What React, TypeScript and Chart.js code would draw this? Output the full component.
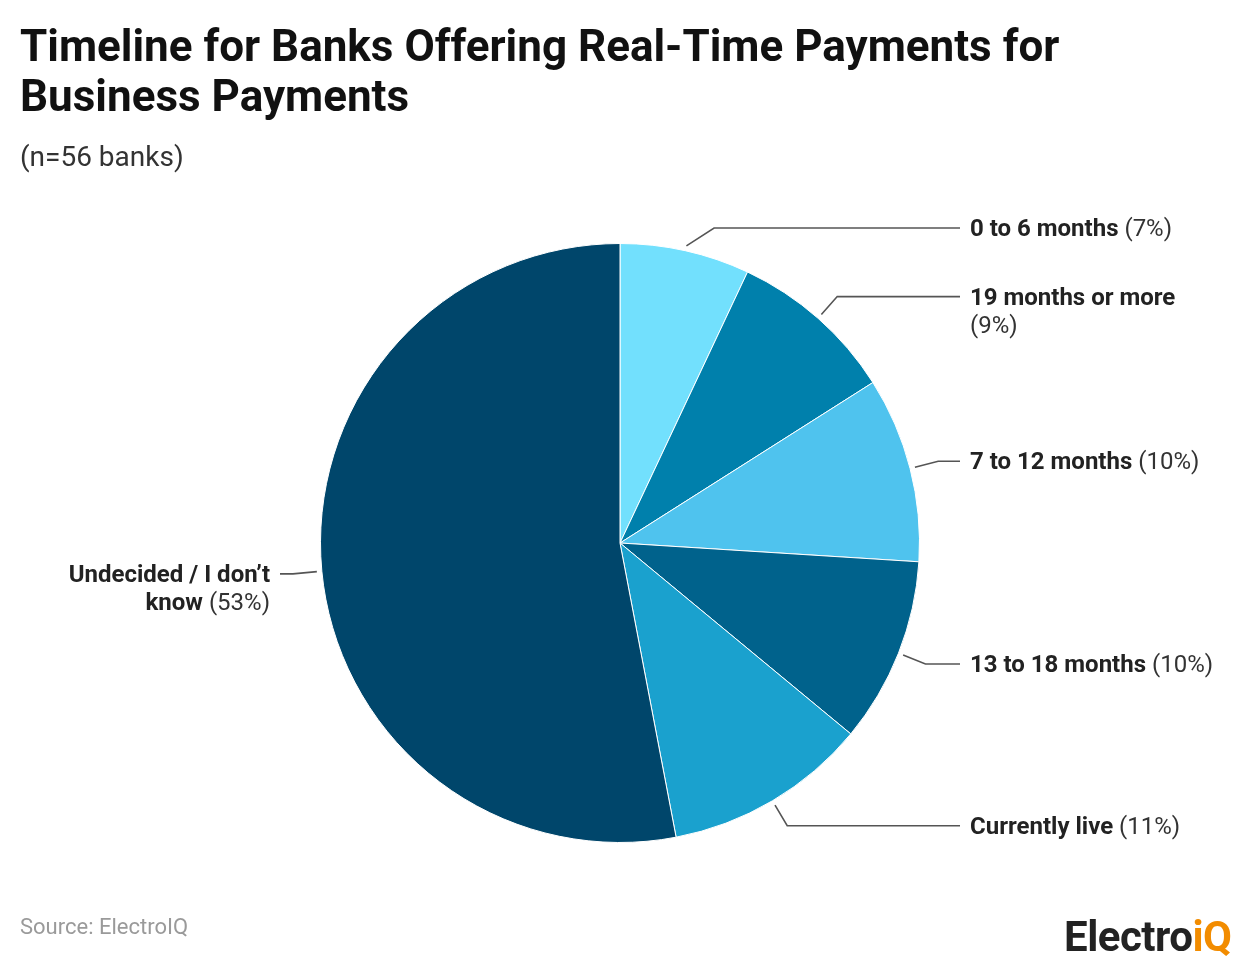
import React, { useEffect, useRef } from "react";
import { Chart, registerables } from "chart.js";

Chart.register(...registerables);

const categories = [
  "0 to 6 months",
  "19 months or more",
  "7 to 12 months",
  "13 to 18 months",
  "Currently live",
  "Undecided / I don\u2019t know",
];
const values = [7, 9, 10, 10, 11, 53];
const colors = ["#72E0FD", "#0080AC", "#4FC3EE", "#00628C", "#1AA1CE", "#00466B"];

const titleText = "Timeline for Banks Offering Real-Time Payments for Business Payments";
const subtitleText = "(n=56 banks)";
const sourceText = "Source: ElectroIQ";

const FONT = "Roboto, 'Noto Sans', sans-serif";

const leaderPlugin = {
  id: "leaderLabels",
  afterDraw(chart: any) {
    const ctx = chart.ctx as CanvasRenderingContext2D;
    const meta = chart.getDatasetMeta(0);
    const ds = chart.data.datasets[0];
    const labels = chart.data.labels as string[];
    ctx.save();
    meta.data.forEach((arc: any, i: number) => {
      const { x, y, startAngle, endAngle, outerRadius } = arc.getProps(
        ["x", "y", "startAngle", "endAngle", "outerRadius"],
        true
      );
      const mid = (startAngle + endAngle) / 2;
      const cos = Math.cos(mid);
      const sin = Math.sin(mid);
      const sx = x + cos * (outerRadius + 5);
      const sy = y + sin * (outerRadius + 5);
      let ex = x + cos * (outerRadius + 29);
      let ey = y + sin * (outerRadius + 29);
      const right = cos >= 0;
      const minY = 228;
      if (ey < minY) {
        ey = minY;
        ex = sx + Math.abs(sy - ey) * 1.55;
      }
      const lineEnd = right ? 960 : 280;
      ctx.beginPath();
      ctx.strokeStyle = "#555555";
      ctx.lineWidth = 1.6;
      ctx.moveTo(sx, sy);
      ctx.lineTo(ex, ey);
      ctx.lineTo(lineEnd, ey);
      ctx.stroke();

      const boldF = "bold 24px " + FONT;
      const reg = "24px " + FONT;
      const words: { t: string; f: string }[] = [];
      labels[i].split(" ").forEach((w) => words.push({ t: w, f: boldF }));
      words.push({ t: "(" + ds.data[i] + "%)", f: reg });
      const maxW = 250;
      const lines: { t: string; f: string }[][] = [[]];
      const measure = (ws: { t: string; f: string }[]) => {
        let w = 0;
        ws.forEach((p, k) => {
          ctx.font = p.f;
          w += ctx.measureText((k > 0 ? " " : "") + p.t).width;
        });
        return w;
      };
      words.forEach((w) => {
        const cur = lines[lines.length - 1];
        if (cur.length && measure([...cur, w]) > maxW) lines.push([w]);
        else cur.push(w);
      });
      ctx.textBaseline = "middle";
      ctx.textAlign = "left";
      lines.forEach((ln, li) => {
        const lw = measure(ln);
        let tx = right ? lineEnd + 10 : lineEnd - 10 - lw;
        const ty = ey + 2 + li * 28;
        ln.forEach((p, k) => {
          ctx.font = p.f;
          const s = (k > 0 ? " " : "") + p.t;
          ctx.fillStyle = p.f === reg ? "#333333" : "#222222";
          ctx.fillText(s, tx, ty);
          tx += ctx.measureText(s).width;
        });
      });
    });
    ctx.restore();
  },
};

export default function App() {
  const ref = useRef<HTMLCanvasElement>(null);
  useEffect(() => {
    document.body.style.margin = "0";
    const chart = new Chart(ref.current as HTMLCanvasElement, {
      type: "pie",
      data: {
        labels: categories,
        datasets: [
          {
            data: values,
            backgroundColor: colors,
            borderColor: "#ffffff",
            borderWidth: 1,
          },
        ],
      },
      options: {
        animation: false,
        responsive: false,
        maintainAspectRatio: false,
        layout: { padding: { top: 243, bottom: 117, left: 320, right: 320 } },
        plugins: {
          legend: { display: false },
          tooltip: { enabled: false },
        },
      },
      plugins: [leaderPlugin],
    });
    return () => chart.destroy();
  }, []);

  return (
    <div style={{ position: "relative", width: 1240, height: 960, background: "#fff", fontFamily: FONT }}>
      <canvas ref={ref} width={1240} height={960} style={{ position: "absolute", left: 0, top: 0 }} />
      <div
        style={{
          position: "absolute",
          left: 20,
          top: 21,
          width: 1150,
          fontSize: 44,
          fontWeight: 700,
          lineHeight: "50px",
          color: "#111",
        }}
      >
        {titleText}
      </div>
      <div style={{ position: "absolute", left: 20, top: 140, fontSize: 28, color: "#333", lineHeight: "34px" }}>
        {subtitleText}
      </div>
      <div style={{ position: "absolute", left: 20, top: 914, fontSize: 22, color: "#9a9a9a", lineHeight: "26px" }}>
        {sourceText}
      </div>
      <div
        style={{
          position: "absolute",
          left: 1064,
          top: 915,
          fontSize: 42,
          fontWeight: 700,
          lineHeight: "44px",
          color: "#222",
          letterSpacing: -0.5,
        }}
      >
        Electro<span style={{ color: "#F28C00" }}>iQ</span>
      </div>
    </div>
  );
}
